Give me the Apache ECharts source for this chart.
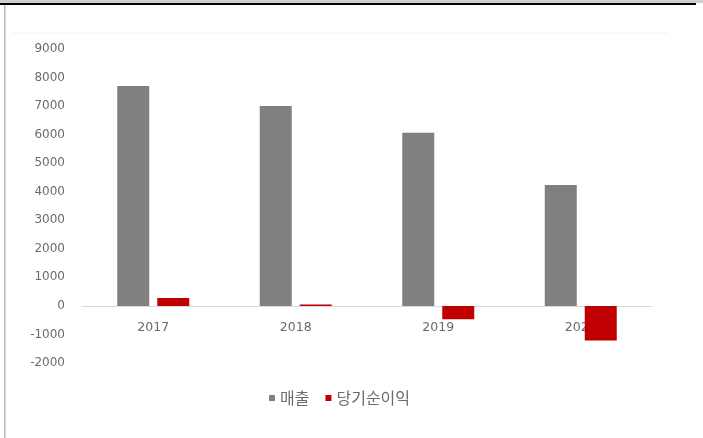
<!DOCTYPE html>
<html>
<head>
<meta charset="utf-8">
<script src="https://cdn.jsdelivr.net/npm/echarts@6/dist/echarts.min.js"></script>
<style>
  html, body { margin: 0; padding: 0; background: #fff; }
  #chart { width: 703px; height: 438px; }
</style>
</head>
<body>
<div id="chart"></div>
<script>
// Annual figures
const years = ['2017', '2018', '2019', '2020'];
const revenue = [7700, 7000, 6070, 4240];       // 매출
const netIncome = [280, 50, -470, -1215];       // 당기순이익
const seriesNames = ['매출', '당기순이익'];

const textColor = '#6b6b6b';
const numFont = '"DejaVu Sans", sans-serif';
const krFont = '"Noto Sans CJK KR", "Noto Sans", sans-serif';

const chart = echarts.init(document.getElementById('chart'), null, { renderer: 'canvas' });
chart.setOption({
  animation: false,
  backgroundColor: '#ffffff',
  graphic: [
    { type: 'rect', shape: { x: 0, y: 0, width: 703, height: 3 }, style: { fill: '#d0d0d0' } },
    { type: 'rect', shape: { x: 0, y: 3, width: 696, height: 2 }, style: { fill: '#000000' } },
    { type: 'rect', shape: { x: 4, y: 5, width: 1.5, height: 433 }, style: { fill: '#b8b8b8' } },
    { type: 'line', shape: { x1: 12, y1: 33, x2: 668, y2: 33 }, style: { stroke: '#f2f2f2', lineWidth: 1 } }
  ],
  grid: { left: 82, right: 51, top: 49, bottom: 75, containLabel: false },
  legend: {
    data: seriesNames,
    top: 390,
    left: 269,
    padding: 0,
    itemWidth: 6,
    itemHeight: 6,
    itemGap: 16,
    icon: 'rect',
    textStyle: { color: textColor, fontSize: 16, fontFamily: krFont }
  },
  xAxis: {
    type: 'category',
    data: years,
    position: 'bottom',
    offset: -57,
    axisLine: { onZero: false, lineStyle: { color: '#d9d9d9', width: 1 } },
    axisTick: { show: false },
    axisLabel: { color: textColor, fontSize: 12.5, margin: 15, fontFamily: numFont }
  },
  yAxis: {
    type: 'value',
    min: -2000,
    max: 9000,
    interval: 1000,
    axisLine: { show: false },
    axisTick: { show: false },
    splitLine: { show: false },
    axisLabel: {
      color: textColor,
      fontSize: 12,
      margin: 17,
      fontFamily: numFont,
      formatter: (v) => String(v)
    }
  },
  series: [
    {
      name: seriesNames[0],
      type: 'bar',
      data: revenue,
      barWidth: 32,
      barGap: '25%',
      itemStyle: { color: '#808080' }
    },
    {
      name: seriesNames[1],
      type: 'bar',
      data: netIncome,
      barWidth: 32,
      itemStyle: { color: '#c00000' }
    }
  ]
});
</script>
</body>
</html>
